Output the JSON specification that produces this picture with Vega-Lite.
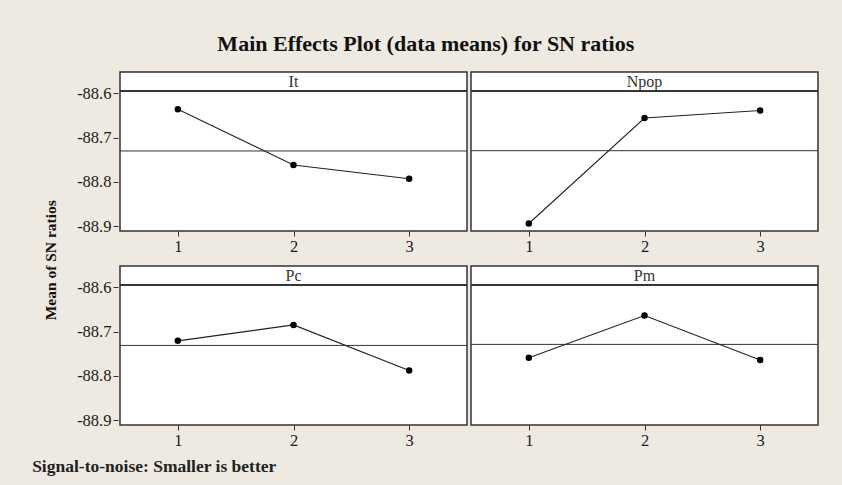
{
  "$schema": "https://vega.github.io/schema/vega-lite/v6.json",
  "background": "#EEEAE1",
  "padding": {"left": 32, "top": 33, "right": 30, "bottom": 20},
  "title": {"text": "Main Effects Plot (data means) for SN ratios", "font": "Liberation Serif", "fontSize": 22, "fontWeight": "bold", "color": "#111", "anchor": "middle", "offset": 15},
  "data": {"values": [
    {"factor": "It", "level": 1, "value": -88.636},
    {"factor": "It", "level": 2, "value": -88.762},
    {"factor": "It", "level": 3, "value": -88.793},
    {"factor": "Npop", "level": 1, "value": -88.894},
    {"factor": "Npop", "level": 2, "value": -88.656},
    {"factor": "Npop", "level": 3, "value": -88.639},
    {"factor": "Pc", "level": 1, "value": -88.721},
    {"factor": "Pc", "level": 2, "value": -88.685},
    {"factor": "Pc", "level": 3, "value": -88.788},
    {"factor": "Pm", "level": 1, "value": -88.759},
    {"factor": "Pm", "level": 2, "value": -88.664},
    {"factor": "Pm", "level": 3, "value": -88.764}
  ]},
  "vconcat": [{
    "title": {"text": "Signal-to-noise: Smaller is better", "orient": "bottom", "anchor": "start", "font": "Liberation Serif", "fontSize": 17.5, "fontWeight": "bold", "color": "#222", "offset": 9, "dx": -12},
    "vconcat": [{
      "title": {"text": "Mean of SN ratios", "orient": "left", "anchor": "middle", "font": "Liberation Serif", "fontSize": 15.5, "fontWeight": "bold", "color": "#111", "offset": 17},
      "facet": {"field": "factor", "type": "nominal", "sort": ["It", "Npop", "Pc", "Pm"], "header": {"title": null, "labels": false, "labelFontSize": 0, "labelPadding": 0, "labelExpr": "''"}},
      "columns": 2,
      "spacing": {"row": 9, "column": 0},
      "resolve": {"axis": {"x": "independent"}},
      "spec": {
        "width": 347,
        "height": 159,
        "layer": [
          {
            "mark": {"type": "rule", "color": "#333", "strokeWidth": 1},
            "encoding": {"y": {"aggregate": "mean", "field": "value", "type": "quantitative", "title": null, "scale": {"domain": [-88.911, -88.552], "zero": false}}}
          },
          {
            "mark": {"type": "rule", "color": "#333", "strokeWidth": 1.5},
            "encoding": {"y": {"datum": -88.595, "type": "quantitative", "title": null, "scale": {"domain": [-88.911, -88.552], "zero": false}}}
          },
          {
            "transform": [{"aggregate": [{"op": "count", "as": "n"}], "groupby": ["factor"]}],
            "mark": {"type": "text", "font": "Liberation Serif", "fontSize": 16, "color": "#333", "baseline": "middle", "align": "center"},
            "encoding": {
              "x": {"datum": 2, "type": "quantitative", "title": null, "scale": {"domain": [0.5, 3.5]}},
              "y": {"datum": -88.5735, "type": "quantitative", "title": null, "scale": {"domain": [-88.911, -88.552], "zero": false}},
              "text": {"field": "factor", "type": "nominal"}
            }
          },
          {
            "mark": {"type": "line", "color": "#222", "strokeWidth": 1.1, "point": {"filled": true, "color": "#000", "size": 42, "opacity": 1}},
            "encoding": {
              "x": {"field": "level", "type": "quantitative", "title": null, "scale": {"domain": [0.5, 3.5]},
                    "axis": {"values": [1, 2, 3], "format": "d"}},
              "y": {"field": "value", "type": "quantitative", "title": null, "scale": {"domain": [-88.911, -88.552], "zero": false},
                    "axis": {"values": [-88.9, -88.8, -88.7, -88.6], "labelExpr": "'-' + format(abs(datum.value), '.1f')"}}
            }
          }
        ]
      }
    }]
  }],
  "config": {
    "view": {"stroke": "#333", "strokeWidth": 1.5, "fill": "white"},
    "header": {"labels": false, "title": null, "labelFontSize": 0, "labelPadding": 0},
    "axis": {"domain": false, "grid": false, "ticks": true, "tickSize": 5, "tickColor": "#333", "labelFont": "Liberation Serif", "labelFontSize": 16.5, "labelColor": "#1a1a1a", "labelPadding": 2}
  }
}
